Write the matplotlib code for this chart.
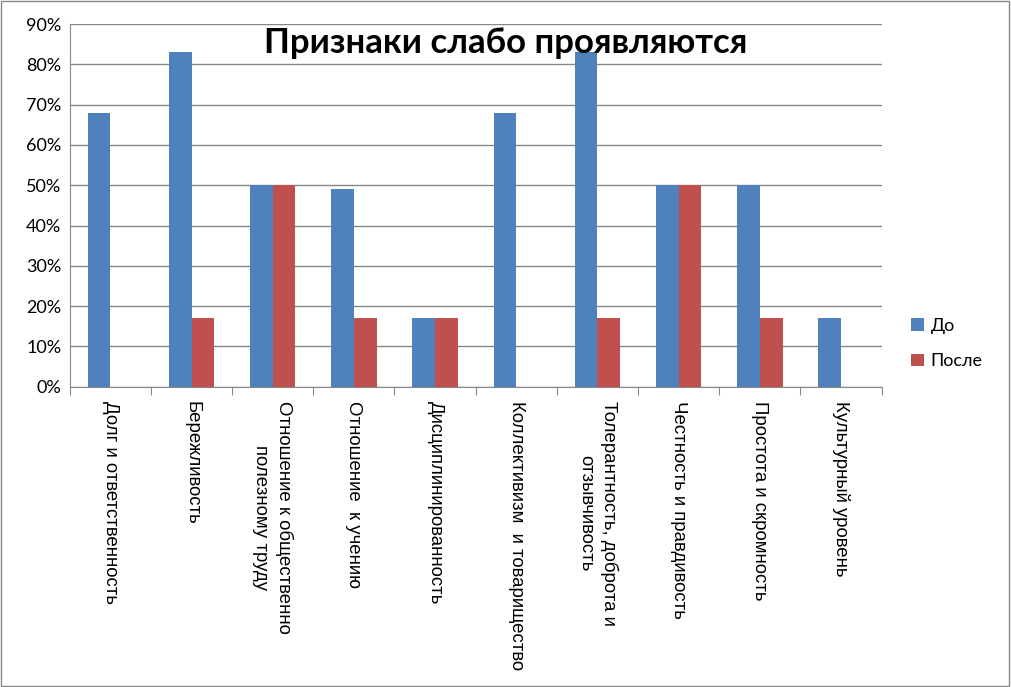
import numpy as np
import matplotlib.pyplot as plt
from matplotlib.patches import Rectangle

categories = ["Долг и ответственность", "Бережливость",
              "Отношение к общественно\nполезному труду", "Отношение  к учению",
              "Дисциплинированность", "Коллективизм  и товарищество",
              "Толерантность, доброта и\nотзывчивость", "Честность и правдивость",
              "Простота и скромность", "Культурный уровень"]
do_vals = [68, 83, 50, 49, 17, 68, 83, 50, 50, 17]
posle_vals = [0, 17, 50, 17, 17, 0, 17, 50, 17, 0]
y_ticks = [0, 10, 20, 30, 40, 50, 60, 70, 80, 90]

BLUE = '#4F81BD'
RED = '#C0504D'
GRID = '#878787'

fig = plt.figure(figsize=(10.11, 6.87), dpi=100)
ax = fig.add_axes([0.069, 0.437, 0.803, 0.528])

x = np.arange(len(categories))
w = 0.28
ax.bar(x - w/2, do_vals, w, color=BLUE, label='До', zorder=3)
ax.bar(x + w/2, posle_vals, w, color=RED, label='После', zorder=3)

ax.set_xlim(-0.5, len(categories) - 0.5)
ax.set_ylim(0, 90)
ax.set_yticks(y_ticks)
ax.set_yticklabels([f'{v}%' for v in y_ticks], fontsize=13, family='Lato')
ax.yaxis.grid(True, color=GRID, linewidth=1, zorder=0)
ax.tick_params(axis='y', length=0, pad=6)

# границы категорий
ax.set_xticks(np.arange(len(categories) + 1) - 0.5)
ax.set_xticklabels([])
ax.tick_params(axis='x', length=6, color=GRID, direction='out')
for i, lab in enumerate(categories):
    ax.text(i, -3.5, lab, rotation=270, ha='center', va='top', multialignment='center',
            fontsize=13.4, family='Liberation Sans', linespacing=1.45,
            transform=ax.transData)

for s in ['top', 'right']:
    ax.spines[s].set_visible(False)
for s in ['left', 'bottom']:
    ax.spines[s].set_color(GRID)

fig.text(0.5, 0.938, 'Признаки слабо проявляются', ha='center', va='center',
         fontsize=25, fontweight='bold', family='Lato')

fig.legend(loc='center left', bbox_to_anchor=(0.885, 0.5), frameon=False,
           prop={'family': 'Lato', 'size': 13}, handlelength=0.7, handleheight=0.7,
           labelspacing=1.1, handletextpad=0.4)

fig.patches.append(Rectangle((0.001, 0.001), 0.997, 0.997, transform=fig.transFigure,
                             fill=False, edgecolor=GRID, linewidth=1))

fig.savefig('out.png', dpi=100)
